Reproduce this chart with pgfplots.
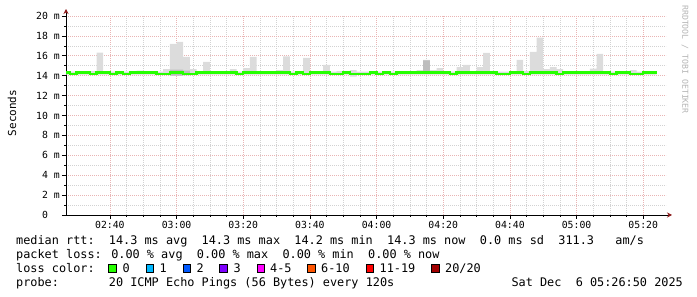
\documentclass[border=0pt]{standalone}
\usepackage{fontspec}
\setmainfont{DejaVu Sans Mono}
\setmonofont{DejaVu Sans Mono}
\usepackage{pgfplots}
\usepackage{pgfplotstable}
\pgfplotsset{compat=1.18}
\usepgfplotslibrary{fillbetween}
\usetikzlibrary{arrows.meta}
\definecolor{smoke}{HTML}{DCDCDC}
\definecolor{smokedark}{HTML}{BDBDBD}
\definecolor{med}{HTML}{26FF00}
\definecolor{mgrid}{HTML}{E9B4B4}
\definecolor{ngrid}{HTML}{D2D2D2}
\definecolor{arrowred}{HTML}{8B1A1A}
\definecolor{l0}{HTML}{26FF00}
\definecolor{l1}{HTML}{00B8FF}
\definecolor{l2}{HTML}{0059FF}
\definecolor{l3}{HTML}{7E00FF}
\definecolor{l4}{HTML}{FF00FF}
\definecolor{l6}{HTML}{FF5500}
\definecolor{l11}{HTML}{FF0000}
\definecolor{l20}{HTML}{A10000}
\definecolor{sidegray}{HTML}{B4B4B4}

% t = minutes since 00:00, bins of 2 minutes
\pgfplotstableread{
t   med   smax  smin  dmax  dmin
146 14.32 14.40 14.10 14.20 14.20
148 14.18 14.40 14.10 14.20 14.20
150 14.32 14.40 14.10 14.20 14.20
152 14.32 14.40 14.10 14.20 14.20
154 14.18 14.47 14.10 14.20 14.20
156 14.32 16.31 14.10 14.20 14.20
158 14.32 14.40 14.10 14.20 14.20
160 14.18 14.40 14.10 14.20 14.20
162 14.32 14.40 14.10 14.20 14.20
164 14.18 14.40 14.10 14.20 14.20
166 14.32 14.40 14.10 14.20 14.20
168 14.32 14.50 14.10 14.20 14.20
170 14.32 14.40 14.10 14.20 14.20
172 14.32 14.47 14.10 14.20 14.20
174 14.18 14.40 14.10 14.20 14.20
176 14.18 14.67 14.10 14.20 14.20
178 14.32 17.19 14.00 14.60 14.00
180 14.32 17.39 14.00 14.60 14.00
182 14.18 15.90 14.05 14.50 14.05
184 14.18 14.67 14.10 14.20 14.20
186 14.32 14.40 14.10 14.20 14.20
188 14.32 15.38 14.10 14.20 14.20
190 14.32 14.40 14.10 14.20 14.20
192 14.32 14.47 14.10 14.20 14.20
194 14.32 14.40 14.10 14.20 14.20
196 14.32 14.67 14.10 14.20 14.20
198 14.18 14.40 14.10 14.20 14.20
200 14.32 14.77 14.10 14.20 14.20
202 14.32 15.90 14.10 14.20 14.20
204 14.32 14.40 14.10 14.20 14.20
206 14.32 14.40 14.10 14.20 14.20
208 14.32 14.40 14.10 14.20 14.20
210 14.32 14.57 14.10 14.20 14.20
212 14.32 15.95 14.10 14.20 14.20
214 14.18 14.40 14.10 14.20 14.20
216 14.32 14.40 14.10 14.20 14.20
218 14.18 15.80 14.10 14.20 14.20
220 14.32 14.45 14.10 14.20 14.20
222 14.32 14.40 14.10 14.20 14.20
224 14.32 15.10 14.10 14.20 14.20
226 14.18 14.40 14.10 14.20 14.20
228 14.18 14.47 14.10 14.20 14.20
230 14.32 14.40 14.10 14.20 14.20
232 14.18 14.57 13.90 14.20 14.20
234 14.18 14.40 14.10 14.20 14.20
236 14.18 14.40 14.10 14.20 14.20
238 14.32 14.47 14.10 14.20 14.20
240 14.18 14.40 14.10 14.20 14.20
242 14.32 14.40 14.10 14.20 14.20
244 14.18 14.40 14.10 14.20 14.20
246 14.32 14.45 14.10 14.20 14.20
248 14.32 14.40 14.10 14.20 14.20
250 14.32 14.40 14.10 14.20 14.20
252 14.32 14.57 14.10 14.20 14.20
254 14.32 15.60 14.10 15.55 14.20
256 14.32 14.57 14.10 14.20 14.20
258 14.32 14.75 14.10 14.20 14.20
260 14.32 14.47 14.10 14.20 14.20
262 14.18 14.40 14.10 14.20 14.20
264 14.32 14.87 14.10 14.20 14.20
266 14.32 15.10 14.10 14.20 14.20
268 14.32 14.40 14.10 14.20 14.20
270 14.32 14.87 14.10 14.20 14.20
272 14.32 16.30 14.10 14.20 14.20
274 14.32 14.40 14.10 14.20 14.20
276 14.18 14.40 14.10 14.20 14.20
278 14.18 14.40 14.10 14.20 14.20
280 14.32 14.47 14.10 14.20 14.20
282 14.32 15.60 14.10 14.20 14.20
284 14.18 14.47 14.10 14.20 14.20
286 14.32 16.40 14.10 14.20 14.20
288 14.32 17.82 14.10 14.20 14.20
290 14.32 14.67 14.10 14.20 14.20
292 14.32 14.87 14.10 14.20 14.20
294 14.18 14.67 14.10 14.20 14.20
296 14.32 14.40 14.10 14.20 14.20
298 14.32 14.40 14.10 14.20 14.20
300 14.32 14.40 14.10 14.20 14.20
302 14.32 14.40 14.10 14.20 14.20
304 14.32 14.70 14.10 14.20 14.20
306 14.32 16.20 14.10 14.20 14.20
308 14.32 14.40 14.10 14.20 14.20
310 14.18 14.40 14.10 14.20 14.20
312 14.32 14.47 14.10 14.20 14.20
314 14.32 14.40 14.10 14.20 14.20
316 14.18 14.57 14.10 14.20 14.20
318 14.18 14.40 14.10 14.20 14.20
320 14.32 14.40 14.10 14.20 14.20
322 14.32 14.47 14.10 14.20 14.20
324 14.32 14.47 14.10 14.20 14.20
}\pingdata

\begin{document}
\begin{tikzpicture}[x=1pt,y=1pt]
\path (0,0) rectangle (697,297);
\begin{axis}[
  at={(66pt,82pt)}, anchor=south west,
  width=600pt, height=199pt, scale only axis,
  xmin=146.83, xmax=326.83, ymin=0, ymax=20,
  set layers,
  axis lines=left,
  axis line style={black, line width=0.9pt},
  x axis line style={-{Stealth[length=5pt,width=5pt,color=arrowred]}, shorten >=-6pt},
  y axis line style={-{Stealth[length=5pt,width=5pt,color=arrowred]}, shorten >=-7pt},
  xtick={160,180,...,320},
  xticklabels={02:40,03:00,03:20,03:40,04:00,04:20,04:40,05:00,05:20},
  minor x tick num=3,
  ytick={0,2,...,20},
  yticklabels={0\phantom{\ m},2 m,4 m,6 m,8 m,10 m,12 m,14 m,16 m,18 m,20 m},
  minor y tick num=1,
  grid=both,
  major grid style={mgrid, dash pattern=on 0.9pt off 1.1pt, line width=0.6pt},
  minor grid style={ngrid, dash pattern=on 0.9pt off 1.1pt, line width=0.6pt},
  tick align=outside, major tick length=4pt, minor tick length=2pt,
  tick style={black, line width=0.6pt},
  /pgf/number format/assume math mode=true,
  ticklabel style={font=\fontsize{9.8}{10}\selectfont, inner sep=0pt},
  xticklabel style={anchor=north, yshift=-2pt},
  yticklabel style={anchor=east, xshift=-2pt},
]
\addplot[name path=smax, const plot, draw=none] table[x=t, y=smax] {\pingdata};
\addplot[name path=smin, const plot, draw=none] table[x=t, y=smin] {\pingdata};
\addplot[smoke, on layer=axis background] fill between[of=smax and smin];
\addplot[name path=dmax, const plot, draw=none] table[x=t, y=dmax] {\pingdata};
\addplot[name path=dmin, const plot, draw=none] table[x=t, y=dmin] {\pingdata};
\addplot[smokedark, on layer=axis background] fill between[of=dmax and dmin];
\addplot[const plot, med, line width=2.4pt] table[x=t, y=med] {\pingdata};
\end{axis}

\node[rotate=90, font=\fontsize{11}{12}\selectfont] at (12,184) {Seconds};
\node[rotate=-90, anchor=west, inner sep=0pt, text=sidegray, font=\fontsize{8.2}{9}\selectfont] at (685,292) {RRDTOOL / TOBI OETIKER};

\begin{scope}[every node/.style={anchor=base west, inner sep=0pt, font=\fontsize{11.85}{13}\selectfont}]
\node at (16,52.7) {median rtt:~~14.3 ms avg~~14.3 ms max~~14.2 ms min~~14.3 ms now~~0.0 ms sd~~311.3~~~am/s};
\node at (16,38.7) {packet loss: 0.00 \% avg~~0.00 \% max~~0.00 \% min~~0.00 \% now};
\node at (16,24.4) {loss color:};
\node at (122.5,24.4) {0};
\node at (159.5,24.4) {1};
\node at (196.5,24.4) {2};
\node at (233.5,24.4) {3};
\node at (270,24.4) {4-5};
\node at (321,24.4) {6-10};
\node at (379.5,24.4) {11-19};
\node at (445,24.4) {20/20};
\node at (16,10.3) {probe:~~~~~~~20 ICMP Echo Pings (56 Bytes) every 120s};
\node[anchor=base east] at (683,10.3) {Sat Dec~~6 05:26:50 2025};
\end{scope}
\begin{scope}[line width=0.8pt]
\filldraw[fill=l0, draw=black]  (108.5,24.8) rectangle ++(7.8,7.8);
\filldraw[fill=l1, draw=black]  (146,24.8) rectangle ++(7.8,7.8);
\filldraw[fill=l2, draw=black]  (183,24.8) rectangle ++(7.8,7.8);
\filldraw[fill=l3, draw=black]  (219.5,24.8) rectangle ++(7.8,7.8);
\filldraw[fill=l4, draw=black]  (257,24.8) rectangle ++(7.8,7.8);
\filldraw[fill=l6, draw=black]  (307.5,24.8) rectangle ++(7.8,7.8);
\filldraw[fill=l11, draw=black] (366,24.8) rectangle ++(7.8,7.8);
\filldraw[fill=l20, draw=black] (431.5,24.8) rectangle ++(7.8,7.8);
\end{scope}
\end{tikzpicture}
\end{document}
